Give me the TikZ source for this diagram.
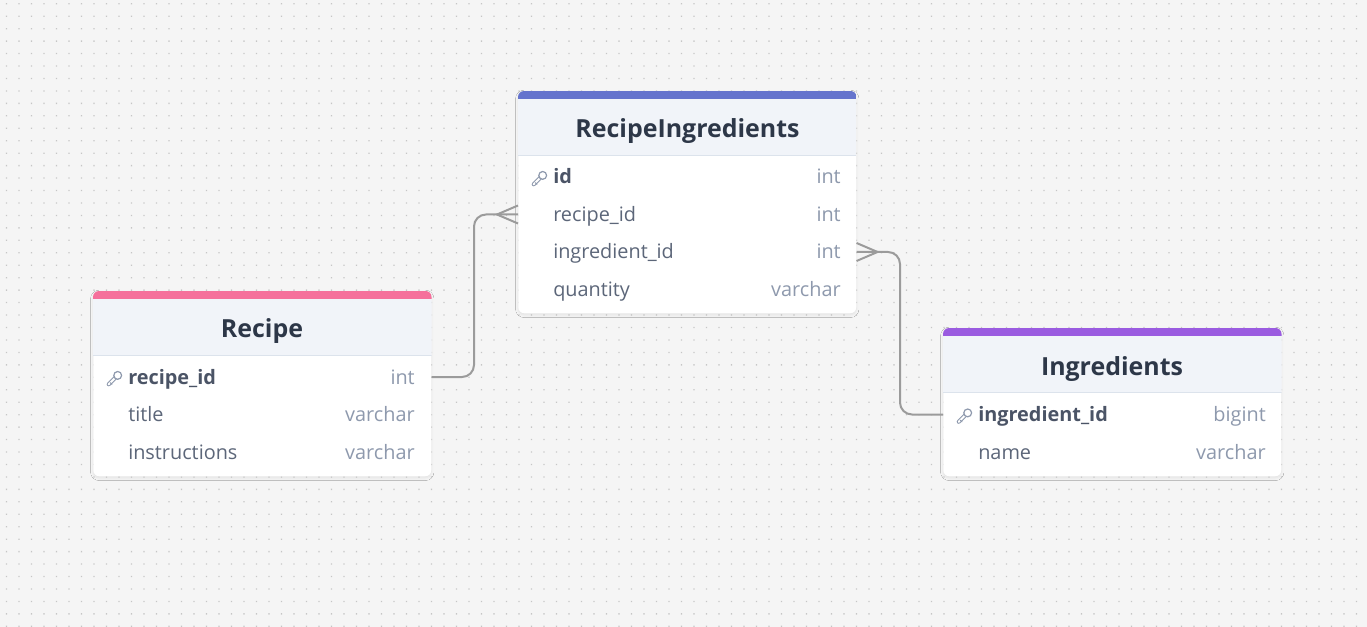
\documentclass[tikz,border=0pt]{standalone}
\usepackage{fontspec}
\setmainfont{Open Sans}
\usetikzlibrary{calc,shadows.blur}

\definecolor{paper}{HTML}{F5F5F5}
\definecolor{griddot}{HTML}{C6C6C6}
\definecolor{headfill}{HTML}{F1F4F9}
\definecolor{headline}{HTML}{DCE3EC}
\definecolor{titletext}{HTML}{2D3748}
\definecolor{fieldtext}{HTML}{5C6679}
\definecolor{pktext}{HTML}{4B5466}
\definecolor{typetext}{HTML}{8E99AD}
\definecolor{linkgray}{HTML}{9B9B9B}
\definecolor{recipepink}{HTML}{F5709B}
\definecolor{joinblue}{HTML}{6574CD}
\definecolor{ingpurple}{HTML}{9A5BE0}

\tikzset{
  tablebox/.style={fill=white, rounded corners=4.5pt, inner sep=0pt,
    minimum width=253.5pt, anchor=north west,
    blur shadow={shadow blur radius=2pt, shadow xshift=0pt, shadow yshift=-1.2pt, shadow opacity=8}},
  tabletitle/.style={anchor=base, inner sep=0pt, text=titletext,
    font=\fontsize{18.7}{22}\selectfont\bfseries},
  field/.style={anchor=west, inner sep=0pt, text height=10.5pt, text depth=0pt,
    text=fieldtext, font=\fontsize{14.9}{17}\selectfont},
  pkfield/.style={field, text=pktext, font=\fontsize{14.9}{17}\selectfont\bfseries},
  fieldtype/.style={field, anchor=east, text=typetext},
  link/.style={draw=linkgray, line width=1.5pt, rounded corners=9pt},
  crowfoot/.style={draw=linkgray, line width=1.5pt},
  keyicon/.pic={
    \draw[typetext, line width=0.75, double=white, double distance=1.5, line cap=round]
      (1,-0.5) -- (-5.8,6.3);
    \draw[typetext, line width=0.75, line cap=round] (-4.2,4.7) -- (-2.6,6.3);
    \draw[typetext, fill=white, line width=0.9] (3.2,-2.6) circle (3.9);
  }
}

\begin{document}
\begin{tikzpicture}[x=0.75pt, y=-0.75pt]
\useasboundingbox (0,0) rectangle (1367,627);
% background and dots
\fill[paper] (0,0) rectangle (1367,627);
\foreach \i in {0,...,109} {
  \fill[griddot] \foreach \j in {0,...,50} { (6.5+12.5*\i-0.65, 3.8+12.45*\j-0.65) rectangle ++(1.3,1.3) };
}

% Recipe
\node[tablebox, minimum height=138.75pt] (recipe) at (93,291) {};
\begin{scope}
\clip[rounded corners=4.5pt] (recipe.north west) rectangle (recipe.south east);
\fill[recipepink] (recipe.north west) rectangle ($(recipe.north east)+(0,8)$);
\fill[headfill] ($(recipe.north west)+(0,8)$) rectangle ($(recipe.north east)+(0,64)$);
\draw[headline] ($(recipe.north west)+(0,64)$) -- ($(recipe.north east)+(0,64)$);
\end{scope}
\node[tabletitle] (recipe-title) at (262,338) {Recipe};
\pic at (114.5,378) {keyicon};
\node[pkfield] (r-id) at (128,377) {recipe\_id};
\node[fieldtype] (r-id-t) at (415,377) {int};
\node[field] (r-title) at (128,414.5) {title};
\node[fieldtype] (r-title-t) at (415,414.5) {varchar};
\node[field] (r-instr) at (128,452) {instructions};
\node[fieldtype] (r-instr-t) at (415,452) {varchar};

% RecipeIngredients
\node[tablebox, minimum height=166.5pt] (join) at (518,91) {};
\begin{scope}
\clip[rounded corners=4.5pt] (join.north west) rectangle (join.south east);
\fill[joinblue] (join.north west) rectangle ($(join.north east)+(0,8)$);
\fill[headfill] ($(join.north west)+(0,8)$) rectangle ($(join.north east)+(0,64)$);
\draw[headline] ($(join.north west)+(0,64)$) -- ($(join.north east)+(0,64)$);
\end{scope}
\node[tabletitle] (join-title) at (687.5,138) {RecipeIngredients};
\pic at (539.5,178) {keyicon};
\node[pkfield] (j-id) at (553,177) {id};
\node[fieldtype] (j-id-t) at (841,177) {int};
\node[field] (j-rid) at (553,214.5) {recipe\_id};
\node[fieldtype] (j-rid-t) at (841,214.5) {int};
\node[field] (j-iid) at (553,252) {ingredient\_id};
\node[fieldtype] (j-iid-t) at (841,252) {int};
\node[field] (j-qty) at (553,289.5) {quantity};
\node[fieldtype] (j-qty-t) at (841,289.5) {varchar};

% Ingredients
\node[tablebox, minimum height=111pt] (ingr) at (943,328) {};
\begin{scope}
\clip[rounded corners=4.5pt] (ingr.north west) rectangle (ingr.south east);
\fill[ingpurple] (ingr.north west) rectangle ($(ingr.north east)+(0,8)$);
\fill[headfill] ($(ingr.north west)+(0,8)$) rectangle ($(ingr.north east)+(0,64)$);
\draw[headline] ($(ingr.north west)+(0,64)$) -- ($(ingr.north east)+(0,64)$);
\end{scope}
\node[tabletitle] (ingr-title) at (1112,375) {Ingredients};
\pic at (964.5,415.5) {keyicon};
\node[pkfield] (i-id) at (978,414.5) {ingredient\_id};
\node[fieldtype] (i-id-t) at (1266,414.5) {bigint};
\node[field] (i-name) at (978,452) {name};
\node[fieldtype] (i-name-t) at (1266,452) {varchar};

% links
\coordinate (jog1) at (474,0);
\coordinate (jog2) at (900,0);
\draw[link] (recipe.east |- r-id.west) -| (jog1 |- j-rid.west) -- (join.west |- j-rid.west);
\draw[crowfoot] ($(join.west |- j-rid.west)+(0,-9)$) -- ($(join.west |- j-rid.west)+(-21,0)$)
  -- ($(join.west |- j-rid.west)+(0,9)$);
\draw[link] (join.east |- j-iid.west) -| (jog2 |- i-id.west) -- (ingr.west |- i-id.west);
\draw[crowfoot] ($(join.east |- j-iid.west)+(0,-9)$) -- ($(join.east |- j-iid.west)+(21,0)$)
  -- ($(join.east |- j-iid.west)+(0,9)$);
\end{tikzpicture}
\end{document}
